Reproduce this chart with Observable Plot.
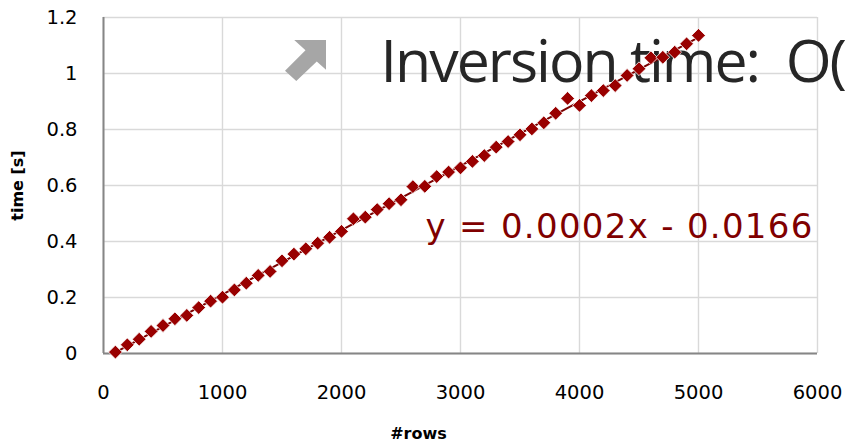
<!DOCTYPE html>
<html>
<head>
<meta charset="utf-8">
<script src="https://cdn.jsdelivr.net/npm/d3@7"></script>
<script src="https://cdn.jsdelivr.net/npm/@observablehq/plot@0.6"></script>
<style>
  html, body { margin: 0; padding: 0; background: #fff; overflow: hidden; }
  #chart { position: relative; width: 846px; height: 443px; }
  #arrow { position: absolute; left: 285px; top: 40px; }
</style>
</head>
<body>
<div id="chart"></div>
<script>
// Matrix inversion timings: number of rows vs. seconds
const rows = [
  100, 200, 300, 400, 500, 600, 700, 800, 900, 1000,
  1100, 1200, 1300, 1400, 1500, 1600, 1700, 1800, 1900, 2000,
  2100, 2200, 2300, 2400, 2500, 2600, 2700, 2800, 2900, 3000,
  3100, 3200, 3300, 3400, 3500, 3600, 3700, 3800, 3900, 4000,
  4100, 4200, 4300, 4400, 4500, 4600, 4700, 4800, 4900, 5000
];
const times = [
  0.005, 0.031, 0.051, 0.079, 0.100, 0.124, 0.136, 0.164, 0.187, 0.201,
  0.227, 0.251, 0.279, 0.293, 0.331, 0.355, 0.374, 0.394, 0.415, 0.436,
  0.481, 0.487, 0.514, 0.535, 0.549, 0.596, 0.597, 0.632, 0.648, 0.663,
  0.686, 0.707, 0.737, 0.757, 0.781, 0.802, 0.824, 0.858, 0.911, 0.886,
  0.921, 0.939, 0.957, 0.993, 1.017, 1.056, 1.058, 1.076, 1.106, 1.136
];
const xTicks = [0, 1000, 2000, 3000, 4000, 5000, 6000];
const yTicks = [0, 0.2, 0.4, 0.6, 0.8, 1.0, 1.2];
const titleText = "Inversion time:\u00a0 O(";
const trendLabel = "y = 0.0002x - 0.0166";
const xTitle = "#rows";
const yTitle = "time [s]";

const data = rows.map((r, i) => ({rows: r, time: times[i]}));

const plot = Plot.plot({
  width: 846,
  height: 443,
  marginLeft: 103,
  marginRight: 29,
  marginTop: 17,
  marginBottom: 90,
  style: {fontFamily: "DejaVu Sans", fontSize: "19.5px", color: "#000", background: "#fff"},
  x: {domain: [0, 6000], ticks: xTicks, tickSize: 0, tickPadding: 32, tickFormat: d => String(d), label: null},
  y: {domain: [0, 1.2], ticks: yTicks, tickSize: 0, tickPadding: 26, tickFormat: d => String(+d.toFixed(1)), label: null},
  marks: [
    Plot.ruleX(xTicks, {stroke: "#d9d9d9", strokeWidth: 1.4}),
    Plot.ruleY(yTicks, {stroke: "#d9d9d9", strokeWidth: 1.4}),
    Plot.ruleX([0], {stroke: "#868686", strokeWidth: 2}),
    Plot.ruleY([0], {stroke: "#868686", strokeWidth: 2}),
    Plot.text([titleText], {
      frameAnchor: "top-left", textAnchor: "start", lineAnchor: "bottom",
      dx: 277, dy: 64, fontSize: 59, fontFamily: "Open Sans", fill: "#262626"
    }),
    Plot.linearRegressionY(data, {x: "rows", y: "time", ci: 0, stroke: "#7a0000", strokeWidth: 2}),
    Plot.dot(data, {x: "rows", y: "time", symbol: "diamond2", r: 6.2, fill: "#990000", stroke: "#fff", strokeWidth: 0.8}),
    Plot.text([trendLabel], {
      frameAnchor: "top-left", textAnchor: "start", lineAnchor: "bottom",
      dx: 322, dy: 220, fontSize: 34, fill: "#800000"
    }),
    Plot.text([xTitle], {
      frameAnchor: "bottom", textAnchor: "middle", lineAnchor: "bottom",
      dx: -42, dy: 85, fontSize: 16, fontWeight: "bold"
    }),
    Plot.text([yTitle], {
      frameAnchor: "left", textAnchor: "middle", lineAnchor: "middle",
      rotate: -90, dx: -86, fontSize: 16, fontWeight: "bold"
    })
  ]
});

const svg = d3.select(plot);
svg.selectAll("text")
  .filter(function () { return this.textContent === titleText; })
  .style("letter-spacing", "-2px");
svg.selectAll("text")
  .filter(function () { return this.textContent === trendLabel; })
  .style("letter-spacing", "1.3px");

const chart = document.getElementById("chart");
chart.appendChild(plot);

// Decorative block arrow beside the heading
chart.insertAdjacentHTML("beforeend",
  '<svg id="arrow" width="41" height="41" viewBox="0 0 40 40">' +
  '<polygon points="9,0 40,0 40,29 31,21 11,40 0,30 20,10" fill="#a6a6a6"/></svg>');
</script>
</body>
</html>
